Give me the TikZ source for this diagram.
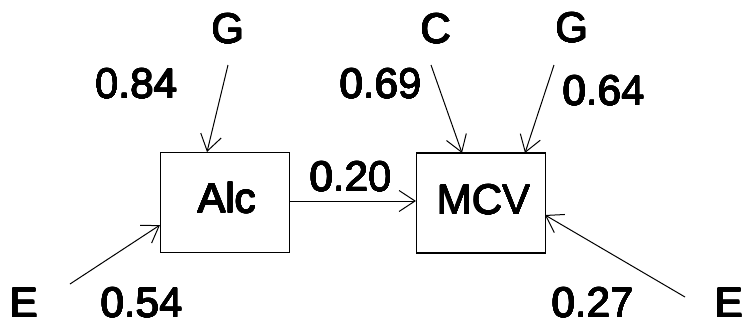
\documentclass[tikz,border=0pt]{standalone}
\usepackage{fontspec}
\setmainfont{Liberation Sans}
\usepackage[copies]{contour}
\contourlength{0.35pt}
\contournumber{16}
\usetikzlibrary{arrows.meta}
\newcommand{\heavy}[1]{\contour{black}{#1}}
\begin{document}
\begin{tikzpicture}[x=1pt,y=-1pt,
  lbl/.style={font=\fontsize{42}{48}\selectfont, inner sep=0pt},
  box/.style={draw, line width=1.1pt, minimum width=129pt, minimum height=100pt},
  arr/.style={line width=1pt, -{Straight Barb[length=16pt,width=21pt,line width=1pt]}}]
\useasboundingbox (0,0) rectangle (742,327);
\node[box] (alc) at (225,202.5) {};
\node[lbl] at (227,198) {\heavy{Alc}};
\node[box] (mcv) at (481,203) {};
\node[lbl] at (484,200) {\heavy{MCV}};
\node[lbl] (g1) at (228,29) {\heavy{G}};
\node[lbl] (c) at (436,29) {\heavy{C}};
\node[lbl] (g2) at (572,28) {\heavy{G}};
\node[lbl] (e1) at (24,303) {\heavy{E}};
\node[lbl] (e2) at (729,303) {\heavy{E}};
\node[lbl] at (136.5,84) {\heavy{0.84}};
\node[lbl] at (381,84) {\heavy{0.69}};
\node[lbl] at (604,91) {\heavy{0.64}};
\node[lbl] at (351,177) {\heavy{0.20}};
\node[lbl] at (142,303) {\heavy{0.54}};
\node[lbl] at (593,303) {\heavy{0.27}};
\coordinate (g1s) at (228,65);
\coordinate (cs) at (431,65);
\coordinate (g2s) at (554,65);
\coordinate (e1s) at (70,284);
\coordinate (e2s) at (685,297);
\draw[arr] (g1s) -- (207,152);
\draw[arr] (cs) -- (462,153);
\draw[arr] (g2s) -- (525,153);
\draw[arr] (e1s) -- (160,225);
\draw[arr] (e2s) -- (545,215);
\draw[arr] (alc.east |- 0,201) -- (mcv.west |- 0,201);
\end{tikzpicture}
\end{document}
